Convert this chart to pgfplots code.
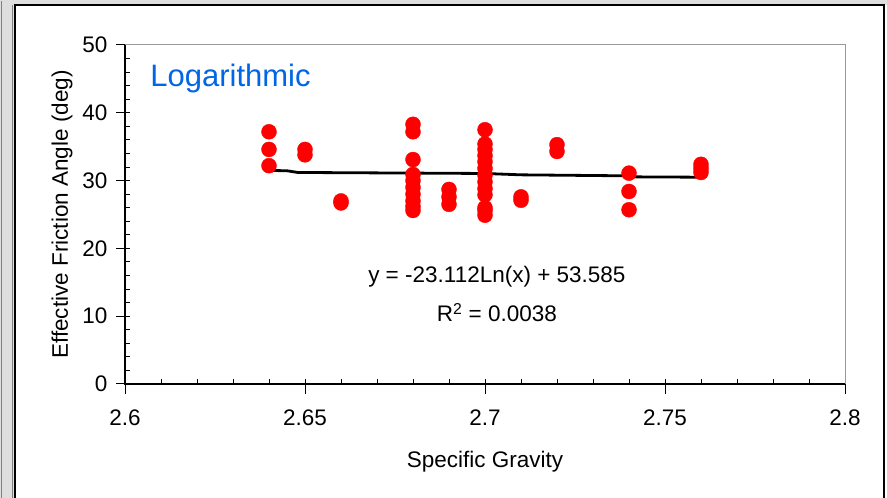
\documentclass[border=0pt]{standalone}
\usepackage{pgfplots}
\pgfplotsset{compat=1.18}
\usepackage{fontspec}
\setmainfont{Liberation Sans}
\definecolor{logblue}{RGB}{0,102,230}
\definecolor{framegray}{RGB}{200,200,200}
\begin{document}
\begin{tikzpicture}[x=1pt,y=1pt]
\useasboundingbox (0,0) rectangle (887,498);
% outer frame
\fill[framegray!60] (0,0) rectangle (14,498);
\fill[framegray!60] (0,493) rectangle (887,498);
\draw[gray, line width=1pt] (1.5,0) -- (1.5,497);
\draw[gray, line width=1pt] (12.5,0) -- (12.5,492.5);
\draw[black, line width=1.2pt] (15,-2) -- (15,493) -- (884,493) -- (884,-2);
\begin{axis}[
  at={(125pt,114pt)}, anchor=south west,
  scale only axis, width=720pt, height=339pt,
  xmin=2.6, xmax=2.8, ymin=0, ymax=50,
  xtick={2.6,2.65,2.7,2.75,2.8},
  xticklabels={2.6,2.65,2.7,2.75,2.8},
  ytick={0,10,20,30,40,50},
  minor x tick num=4, minor y tick num=4,
  tick pos=left,
  tick align=inside,
  major tick length=5pt, minor tick length=5pt,
  every tick/.style={black, line width=1pt},
  extra x ticks={2.6,2.65,2.7,2.75,2.8},
  extra x tick labels={},
  extra x tick style={tick align=outside, major tick length=10pt},
  extra y ticks={0,10,20,30,40,50},
  extra y tick labels={},
  extra y tick style={tick align=outside, major tick length=9pt},
  axis line style={draw=gray!80, line width=1pt},
  /pgf/number format/assume math mode=true,
  ticklabel style={font=\fontsize{22.5}{26}\selectfont},
  xticklabel style={yshift=-22pt},
  yticklabel style={xshift=-14pt},
  xlabel={Specific Gravity},
  ylabel={Effective Friction Angle (deg)},
  label style={font=\fontsize{22.5}{26}\selectfont},
  xlabel style={at={(axis description cs:0.5,-0.230)}, anchor=center},
  ylabel style={at={(axis description cs:-0.0875,0.5)}, anchor=center},
  clip=false,
]
\addplot[only marks, mark=*, mark size=7.5pt, mark options={fill=red, draw=red}, color=red] coordinates {
(2.64,37.2)(2.64,34.6)(2.64,32.2)
(2.65,34.6)(2.65,33.8)
(2.66,27.0)(2.66,26.7)
(2.68,38.3)(2.68,37.2)(2.68,33.1)(2.68,30.9)(2.68,30.0)(2.68,29.0)(2.68,28.0)(2.68,27.0)(2.68,26.2)(2.68,25.6)
(2.69,28.7)(2.69,27.6)(2.69,26.5)
(2.70,37.5)(2.70,35.4)(2.70,34.6)(2.70,33.7)(2.70,32.8)(2.70,31.8)(2.70,30.8)(2.70,29.8)(2.70,28.8)(2.70,27.9)(2.70,26.0)(2.70,25.6)(2.70,24.9)
(2.71,27.6)(2.71,27.1)
(2.72,35.3)(2.72,34.3)
(2.74,31.1)(2.74,28.4)(2.74,25.7)
(2.76,32.4)(2.76,31.8)(2.76,31.2)
};
\addplot[black, line width=2.8pt, no marks] coordinates {
(2.64,31.5)(2.645,31.45)(2.648,31.2)(2.70,31.05)(2.71,30.85)(2.74,30.7)(2.742,30.55)(2.76,30.5)
};
\draw[black, line width=1.3pt] (rel axis cs:0,1) -- (rel axis cs:0,0) -- (rel axis cs:1,0);
\node[font=\fontsize{22.5}{26}\selectfont] at (axis cs:2.7033,15.8) {y = -23.112Ln(x) + 53.585};
\node[font=\fontsize{22.5}{26}\selectfont] at (axis cs:2.7033,10.5) {R\textsuperscript{2} = 0.0038};
\node[font=\fontsize{31}{36}\selectfont, text=logblue, anchor=west, inner sep=0pt] at (axis cs:2.607,45.1) {Logarithmic};
\end{axis}
\end{tikzpicture}
\end{document}
